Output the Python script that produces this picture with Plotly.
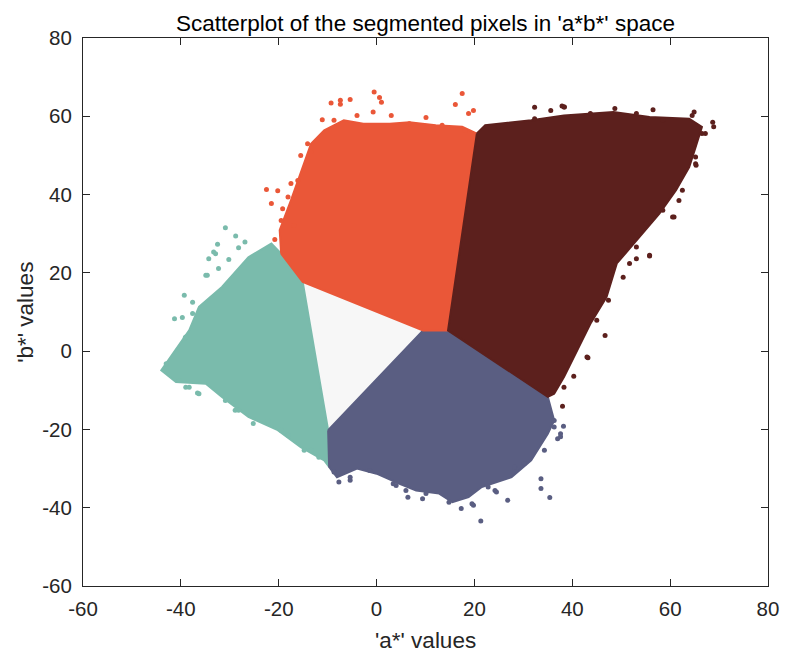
import plotly.graph_objects as go

# Cluster regions in the a*b* plane (outline vertices, a* and b* values)
orange_a = [-19.5, -19.8, -17.5, -14.8, -13.4, -10.7, -6.7, -2.7, 2.7, 6.7, 12.1, 17.5, 20.5, 14.6, 9.5, -15.1]
orange_b = [24.9, 30.9, 38.5, 47.9, 53.0, 56.4, 59.0, 58.1, 58.1, 58.5, 57.7, 57.3, 55.6, 5.3, 5.3, 17.7]

brown_a = [20.5, 22.2, 31.6, 38.3, 48.4, 55.8, 63.9, 66.5, 65.2, 63.9, 61.2, 57.8, 49.1, 47.0, 43.7, 41.0, 38.3, 36.3, 35.0, 14.6]
brown_b = [55.6, 57.7, 59.0, 60.2, 61.1, 59.8, 59.4, 57.3, 52.1, 47.0, 41.1, 35.1, 22.4, 13.8, 7.0, 0.2, -6.6, -10.9, -11.7, 5.3]

teal_a = [-15.1, -19.5, -21.5, -26.2, -31.6, -36.3, -38.3, -41.7, -44.0, -41.0, -34.9, -31.6, -26.2, -20.2, -15.5, -10.7, -9.7, -9.9]
teal_b = [17.7, 24.9, 27.5, 24.0, 16.4, 11.3, 5.3, -0.6, -4.9, -7.9, -8.3, -11.7, -16.8, -20.2, -24.5, -27.9, -29.6, -20.2]

slate_a = [-9.9, 9.5, 14.6, 35.0, 36.3, 35.0, 31.6, 27.6, 21.5, 18.8, 15.5, 12.8, 8.1, 4.7, 0.0, -4.0, -8.1, -9.7]
slate_b = [-20.2, 5.3, 5.3, -11.7, -17.7, -21.1, -27.9, -32.2, -34.7, -37.3, -38.6, -36.4, -35.6, -33.9, -31.3, -30.0, -32.2, -29.6]

white_a = [-15.1, 9.5, -9.9]
white_b = [17.7, 5.3, -20.2]

# Sparse pixels scattered around the edge of each cluster
orange_pa = [-0.5, 0.6, 17.5, -9.3, -5.4, 16.1, -22.5, -21.5, -20.8, -11.1, -0.7, 19.8, 18.8,
             -20.2, -7.4, -7.4, 1.0, 3.0, 10.1, -15.5, -17.5, -19.2, -16.9,
             -14.1, -13.4, -16.1, -18.1, -19.5, -8.7, -4.0, 6.7, 13.4, 18.1]
orange_pb = [66.2, 64.8, 65.8, 63.4, 64.3, 63.0, 41.3, 37.7, 28.5, 59.1, 61.1, 61.5, 60.7,
             41.0, 64.1, 63.1, 63.6, 60.2, 59.7, 50.0, 42.8, 36.4, 32.1,
             53.0, 50.9, 43.6, 39.4, 33.4, 59.0, 60.2, 58.1, 57.7, 56.4]

brown_pa = [32.3, 37.9, 64.9, 68.7, 68.9, 38.4, 35.6, 48.7, 56.5, 65.3, 55.8, 46.7, 43.2, 40.3, 38.0,
            60.8, 67.2, 65.2, 53.1,
            24.9, 32.3, 38.3, 43.7, 53.1, 58.5, 64.5, 66.5, 65.2, 62.5, 61.8, 58.5, 60.5, 55.1,
            55.8, 53.1, 51.7, 50.4, 47.4, 45.0, 43.0, 38.3]
brown_pb = [62.3, 62.6, 61.1, 58.5, 57.3, 62.4, 61.5, 62.0, 61.7, 47.5, 24.3, 4.0, -1.7, -6.4, -14.1,
            34.3, 55.6, 49.6, 23.6,
            57.3, 59.4, 62.4, 60.7, 60.7, 59.0, 60.2, 55.6, 47.9, 41.1, 38.5, 36.0, 34.3, 32.6,
            24.5, 26.6, 22.4, 18.9, 13.0, 7.9, -1.5, -9.2]

teal_pa = [-30.9, -28.8, -32.5, -41.3, -39.3, -34.9, -36.6, -39.0, -32.9, -34.6, -39.7, -39.1,
           -36.3, -28.9, -25.2, -18.1, -14.8, -30.2,
           -26.9, -28.2, -33.3, -34.3, -32.3, -37.6, -37.6, -39.0, -43.0, -40.3, -38.3,
           -30.9, -28.2, -22.2, -19.5, -13.4, -11.8]
teal_pb = [31.5, 29.4, 27.3, 8.3, 14.3, 19.4, -10.7, -9.2, 24.9, 19.4, 8.6, 3.4,
           -10.9, -15.1, -18.5, -21.5, -25.3, 23.4,
           27.9, 26.4, 25.3, 23.6, 21.1, 12.5, 9.6, 3.6, -3.2, -7.5, -9.2,
           -12.6, -15.1, -17.7, -20.2, -25.3, -27.1]

slate_pa = [21.3, 17.3, 26.8, 33.6, 35.4, 33.6, 38.2, 37.0, 4.0, -7.7, 6.4, 9.4, 19.8, 24.2, -5.4,
            -8.7, -5.4, -1.4, 3.4, 6.0, 10.1, 14.8, 19.5, 22.8, 24.5, 28.2, 30.2, 34.3, 36.3,
            37.6, 37.6, 36.3]
slate_pb = [-43.4, -40.2, -38.1, -35.1, -37.4, -32.6, -19.2, -22.4, -34.3, -33.4, -37.3, -37.7, -39.4, -35.6, -33.0,
            -30.9, -32.2, -30.5, -33.9, -35.6, -36.4, -38.6, -39.0, -34.7, -36.0, -29.6, -28.7, -25.3, -19.4,
            -21.9, -21.1, -17.7]

ticks = [-60, -40, -20, 0, 20, 40, 60, 80]

ORANGE = "#EA5738"
BROWN = "#5C201D"
TEAL = "#7ABBAC"
SLATE = "#5A5E82"
WHITE = "#F7F7F7"
INK = "#262626"
FONT = "Liberation Sans, Arial, sans-serif"

fig = go.Figure()

regions = [
    (white_a, white_b, WHITE),
    (teal_a, teal_b, TEAL),
    (slate_a, slate_b, SLATE),
    (orange_a, orange_b, ORANGE),
    (brown_a, brown_b, BROWN),
]
for xa, yb, col in regions:
    fig.add_trace(go.Scatter(
        x=xa + [xa[0]], y=yb + [yb[0]], mode="lines", fill="toself",
        fillcolor=col, line=dict(color=col, width=2),
        hoverinfo="skip", showlegend=False,
    ))

for xa, yb, col in [(teal_pa, teal_pb, TEAL), (slate_pa, slate_pb, SLATE),
                    (orange_pa, orange_pb, ORANGE), (brown_pa, brown_pb, BROWN)]:
    fig.add_trace(go.Scatter(
        x=xa, y=yb, mode="markers",
        marker=dict(color=col, size=5, line=dict(width=0)),
        hoverinfo="skip", showlegend=False,
    ))

axis_common = dict(
    range=[-60, 80], tickvals=ticks, ticktext=[str(t) for t in ticks],
    ticks="inside", ticklen=7, tickwidth=1, tickcolor=INK,
    showline=True, linecolor=INK, linewidth=1, mirror="allticks",
    showgrid=False, zeroline=False,
    tickfont=dict(family=FONT, size=20.5, color=INK),
)

fig.update_layout(
    width=791, height=652,
    margin=dict(l=83, r=14, t=38, b=66),
    paper_bgcolor="white", plot_bgcolor="white",
    xaxis=dict(**axis_common, ticklabelstandoff=4),
    yaxis=dict(**axis_common, ticklabelstandoff=6),
    title=dict(text="Scatterplot of the segmented pixels in 'a*b*' space",
               font=dict(family=FONT, size=22.5, color="black"),
               x=0.5, xref="paper", y=1 - 23 / 652, yref="container",
               xanchor="center", yanchor="middle"),
    annotations=[
        dict(text="'a*' values", xref="paper", yref="paper",
             x=0.5, y=-(640 - 586) / 548, xanchor="center", yanchor="middle",
             showarrow=False, font=dict(family=FONT, size=22.5, color=INK)),
        dict(text="'b*' values", xref="paper", yref="paper",
             x=(24 - 83) / 694, y=0.5, xanchor="center", yanchor="middle",
             textangle=-90, showarrow=False,
             font=dict(family=FONT, size=22.5, color=INK)),
    ],
)

fig.write_html("out.html")
